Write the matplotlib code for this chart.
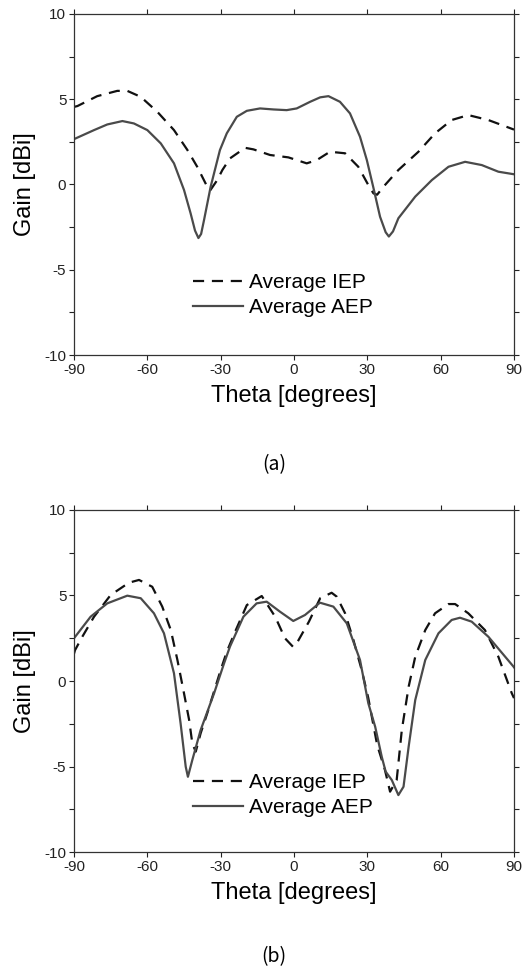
import matplotlib.pyplot as plt
from matplotlib.ticker import MultipleLocator

plt.rcParams['font.family'] = ['Liberation Sans', 'DejaVu Sans']
plt.rcParams['axes.unicode_minus'] = False

# ---- (a) ----
theta_iep_a = [-90, -88.6, -80.5, -72.3, -68.2, -62.7, -55.9, -49.1, -43.6, -39.6, -35.5, -34.3, -31.4,
               -29.3, -26.2, -20, -16.6, -9.8, -2.3, 5.2, 9.3, 14.7, 20.9, 26.3, 30.4, 32.5, 34,
               36.6, 42.7, 50.9, 57.7, 64.5, 71.3, 79.5, 89.8, 90]
gain_iep_a = [4.55, 4.6, 5.18, 5.49, 5.49, 5.14, 4.26, 3.19, 2.02, 1.04, -0.13, -0.35, 0.26,
              0.85, 1.53, 2.15, 2.06, 1.73, 1.59, 1.24, 1.43, 1.92, 1.83, 1.04, -0.03, -0.52, -0.6,
              -0.13, 0.85, 1.92, 3.0, 3.78, 4.07, 3.78, 3.23, 3.22]

theta_aep_a = [-90, -81.8, -76.4, -70.2, -65.5, -60, -54.5, -49.1, -45, -42.3, -40.5, -39.1, -38,
               -36.8, -34.1, -30.3, -27.5, -23.4, -19.3, -13.9, -8.4, -3, 1.1, 6.6, 10.7, 14.1,
               18.8, 22.9, 27, 29.8, 32.5, 35.2, 37.5, 38.8, 40.5, 42.7, 49.6, 56.4, 63.2, 70,
               76.8, 83.6, 90]
gain_aep_a = [2.66, 3.19, 3.52, 3.72, 3.58, 3.19, 2.41, 1.24, -0.32, -1.69, -2.7, -3.14, -2.9,
              -2.08, -0.13, 2.02, 3.0, 3.97, 4.32, 4.46, 4.4, 4.36, 4.46, 4.85, 5.11, 5.18,
              4.85, 4.17, 2.8, 1.43, -0.2, -1.89, -2.8, -3.05, -2.75, -1.98, -0.71, 0.26, 1.04, 1.33,
              1.14, 0.75, 0.6]

# ---- (b) ----
theta_iep_b = [-90, -89.6, -86.6, -81.8, -75, -67.5, -63.4, -58, -53.9, -50.4, -47.7, -45, -42.9,
               -41.6, -40.2, -38.2, -35.5, -30, -27.5, -24.1, -19.3, -13.2, -7.7, -3.7, -0.4, 1.1,
               6.1, 10.7, 15.4, 17.5, 20.9, 24.3, 27.7, 30.4, 34, 37.2, 39.3, 42, 44.1, 46.9, 49.6,
               53.7, 57.7, 63.2, 65.9, 71.3, 78.1, 83.6, 89.1, 90]
gain_iep_b = [1.6, 1.8, 2.59, 3.76, 5.03, 5.75, 5.91, 5.51, 4.35, 2.98, 1.23, -0.72, -2.28,
              -3.65, -4.13, -3.06, -1.89, 0.64, 1.71, 2.88, 4.44, 4.97, 3.76, 2.5, 2.0, 2.2,
              3.47, 4.84, 5.16, 4.93, 3.96, 2.4, 0.64, -1.0, -3.73, -5.2, -6.47, -5.79, -2.87, -0.33, 1.42,
              2.98, 3.96, 4.5, 4.5, 3.96, 2.98, 1.42, -0.72, -1.0]

theta_aep_b = [-90, -83.2, -76.4, -68.2, -62.7, -57.3, -53.2, -49.1, -46.4, -44.3, -43.4, -41.6, -38.2,
               -32.7, -28.6, -26.2, -20.7, -15.3, -11.2, -5.7, -0.3, 4.5, 10.6, 16.1, 21.6, 27,
               29.1, 30.4, 33.2, 35.9, 37.5, 40, 42.7, 44.8, 46.9, 49.6, 53.7, 59.1, 64.5, 67.9,
               72.7, 79.5, 89.8, 90]
gain_aep_b = [2.5, 3.76, 4.54, 4.99, 4.84, 3.96, 2.79, 0.45, -2.47, -5.01, -5.6, -4.62, -2.87,
              -0.72, 1.04, 2.01, 3.76, 4.54, 4.64, 4.05, 3.51, 3.86, 4.58, 4.35, 3.37, 1.23,
              -0.33, -1.3, -2.67, -4.43, -5.3, -5.79, -6.67, -6.18, -3.84, -1.11, 1.23, 2.79, 3.57, 3.7,
              3.47, 2.59, 0.84, 0.8]

xticks = [-90, -60, -30, 0, 30, 60, 90]
yticks = [-10, -5, 0, 5, 10]

fig = plt.figure(figsize=(5.23, 9.69), dpi=100)
ax_a = fig.add_axes([0.1415, 0.6336, 0.8413, 0.352])
ax_b = fig.add_axes([0.1415, 0.1207, 0.8413, 0.353])

panels = [
    (ax_a, theta_iep_a, gain_iep_a, theta_aep_a, gain_aep_a, 0.176, "(a)", 0.521),
    (ax_b, theta_iep_b, gain_iep_b, theta_aep_b, gain_aep_b, 0.167, "(b)", 0.0125),
]

for ax, ti, gi, ta, ga, leg_y, cap, cap_y in panels:
    ax.plot(ti, gi, color="#111111", lw=1.6, ls=(0, (5, 3.5)), label="Average IEP")
    ax.plot(ta, ga, color="#4a4a4a", lw=1.6, label="Average AEP")
    ax.set_xlim(-90, 90)
    ax.set_ylim(-10, 10)
    ax.set_xticks(xticks)
    ax.set_yticks(yticks)
    ax.yaxis.set_minor_locator(MultipleLocator(2.5))
    ax.tick_params(which="both", direction="out", top=True, right=True,
                   labeltop=False, labelright=False, length=3.5, width=0.8,
                   labelsize=11, pad=2, colors="#222222")
    for s in ax.spines.values():
        s.set_linewidth(0.9)
        s.set_color("#333333")
    ax.set_xlabel("Theta [degrees]", fontsize=17, labelpad=6)
    ax.set_ylabel("Gain [dBi]", fontsize=17, labelpad=6)
    ax.legend(loc="center", bbox_to_anchor=(0.475, leg_y), frameon=False,
              fontsize=15, handlelength=2.4, handletextpad=0.3, labelspacing=0.3,
              borderpad=0)
    fig.text(0.524, cap_y, cap, ha="center", va="center", fontsize=14,
             family=["Noto Sans CJK KR", "DejaVu Sans"], fontweight="light")

fig.savefig("out.png", dpi=100)
